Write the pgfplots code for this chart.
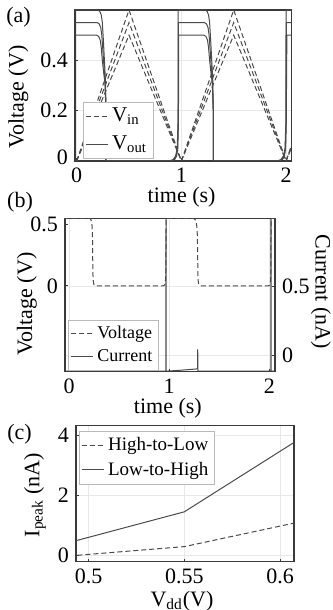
\documentclass[border=0pt]{standalone}
\usepackage{fontspec}
\setmainfont{Liberation Serif}
\usepackage{pgfplots}
\pgfplotsset{compat=1.18}
\definecolor{axc}{HTML}{3A3A3A}
\definecolor{lnc}{HTML}{4A4A4A}
\definecolor{grc}{HTML}{E8E8E8}
\pgfplotsset{
  myax/.style={
    scale only axis,
    axis line style={axc, line width=0.55pt},
    tick style={axc, line width=0.4pt},
    major tick length=1.5pt,
    tick align=inside,
    grid=major,
    major grid style={grc, line width=0.4pt},
    /pgf/number format/assume math mode=true,
    tick label style={font=\fontsize{11}{13}\selectfont},
    label style={font=\fontsize{11}{13}\selectfont},
    legend cell align=left,
    legend style={draw=gray!55, line width=0.4pt, fill=white, inner sep=1pt, outer sep=0pt},
    legend image code/.code={\draw[##1] (0pt,0pt) -- (11pt,0pt);},
    every axis plot/.append style={line width=0.5pt},
  },
  dsh/.style={lnc, dash pattern=on 2.5pt off 1.5pt, line width=0.5pt},
  sld/.style={lnc, solid, line width=0.5pt},
}
\begin{document}
\begin{tikzpicture}
\path[use as bounding box] (0pt,0pt) rectangle (166pt,-305pt);

% ---------------- (b) right axis (current) ----------------
\begin{axis}[myax,
  at={(32.5pt,-185.85pt)}, anchor=south west,
  width=105pt, height=76.7pt,
  xmin=-0.04, xmax=2.055, ymin=-0.122, ymax=1.0,
  xtick=\empty,
  ytick pos=right, yticklabel pos=right,
  xmajorgrids=false, ymajorgrids=true,
  ytick={0,0.5}, yticklabels={0,0.5},
  ylabel={Current (nA)},
  ylabel style={at={(axis description cs:1.219,0.52)}, anchor=center, rotate=180},
]
\addplot[lnc, line width=0.5pt] coordinates {
 (-0.05,-0.118) (0.05,-0.115) (0.2,-0.105) (0.236,-0.10) (0.236,-0.073) (0.238,-0.118)
 (0.966,-0.118) (0.968,1.2) (0.97,-0.118)
 (1.1,-0.112) (1.27,-0.102) (1.284,-0.098) (1.284,0.042) (1.286,-0.118)
 (2.013,-0.118) (2.015,1.2) (2.017,-0.118) (2.06,-0.118)};
\end{axis}

% ---------------- (b) left axis (voltage) ----------------
\begin{axis}[myax,
  at={(32.5pt,-185.85pt)}, anchor=south west,
  width=105pt, height=76.7pt,
  xmin=-0.04, xmax=2.055, ymin=-0.70, ymax=0.55,
  xtick={0,1,2}, ytick={0,0.5},
  xtick pos=bottom, ytick pos=left,
  xmajorgrids=true, ymajorgrids=false,
  xlabel={time (s)}, ylabel={Voltage (V)},
  xlabel style={at={(axis description cs:0.49,-0.235)}, anchor=center},
  ylabel style={at={(axis description cs:-0.182,0.441)}, anchor=center},
  legend style={at={(axis description cs:0.016,0.337)}, anchor=north west,
    font=\fontsize{9}{10.5}\selectfont, row sep=0pt},
]
\addplot[dsh] coordinates {
 (-0.05,0.55) (0.193,0.55) (0.208,0.548) (0.218,0.54) (0.226,0.52) (0.231,0.48) (0.234,0.4) (0.237,0.2) (0.24,0.05) (0.248,0.01) (0.262,0)
 (0.94,0) (0.952,0.005) (0.96,0.02) (0.964,0.06) (0.967,0.2) (0.969,0.55)
 (1.227,0.55) (1.245,0.548) (1.258,0.54) (1.268,0.52) (1.276,0.48) (1.281,0.4) (1.284,0.2) (1.287,0.05) (1.295,0.01) (1.31,0)
 (1.99,0) (2.002,0.005) (2.008,0.02) (2.012,0.06) (2.014,0.2) (2.016,0.55) (2.06,0.55)};
\addlegendentry{Voltage}
\addlegendimage{sld}
\addlegendentry{Current}
\end{axis}

% ---------------- (a) ----------------
\begin{axis}[myax,
  at={(37.5pt,-80.5pt)}, anchor=south west,
  width=108.35pt, height=75.5pt,
  xmin=-0.016, xmax=2.054, ymin=0, ymax=0.6,
  xtick={0,1,2}, ytick={0,0.2,0.4},
  yticklabels={\raisebox{4pt}{0},0.2,0.4},
  xtick pos=bottom, ytick pos=left,
  xlabel={time (s)}, ylabel={Voltage (V)},
  xlabel style={at={(axis description cs:0.492,-0.24)}, anchor=center},
  ylabel style={at={(axis description cs:-0.261,0.424)}, anchor=center},
  legend style={at={(axis description cs:0.037,0.391)}, anchor=north west,
    font=\fontsize{10.5}{12}\selectfont, row sep=1.5pt},
]
\addplot[dsh, forget plot] coordinates {(0,0) (0.5,0.6) (1,0) (1.5,0.6) (2,0) (2.06,0.072)};
\addplot[dsh, forget plot] coordinates {(0,0) (0.5,0.55) (1,0) (1.5,0.55) (2,0) (2.06,0.066)};
\addplot[dsh, forget plot] coordinates {(0,0) (0.5,0.5) (1,0) (1.5,0.5) (2,0) (2.06,0.06)};
\addplot[sld, forget plot] coordinates {
 (-0.02,0.6) (0.20,0.6) (0.22,0.595) (0.235,0.58) (0.245,0.55) (0.255,0.48) (0.265,0.40) (0.275,0.32) (0.28,0.2) (0.28,0)
 (0.88,0) (0.92,0.005) (0.945,0.02) (0.96,0.05) (0.968,0.15) (0.97,0.6)
 (1.225,0.6) (1.245,0.595) (1.26,0.58) (1.27,0.55) (1.28,0.48) (1.29,0.40) (1.30,0.32) (1.305,0.2) (1.305,0)
 (1.91,0) (1.95,0.005) (1.975,0.02) (1.99,0.05) (1.998,0.15) (2.0,0.6) (2.06,0.6)};
\addplot[sld, forget plot] coordinates {
 (-0.02,0.55) (0.195,0.55) (0.215,0.545) (0.23,0.53) (0.24,0.50) (0.25,0.44) (0.26,0.38) (0.272,0.32) (0.28,0.2) (0.28,0)
 (0.89,0) (0.93,0.005) (0.95,0.02) (0.963,0.05) (0.97,0.15) (0.972,0.55)
 (1.22,0.55) (1.24,0.545) (1.255,0.53) (1.265,0.50) (1.275,0.44) (1.285,0.38) (1.297,0.32) (1.305,0.2) (1.305,0)
 (1.92,0) (1.96,0.005) (1.98,0.02) (1.993,0.05) (2.0,0.15) (2.004,0.55) (2.06,0.55)};
\addplot[sld, forget plot] coordinates {
 (-0.02,0.5) (0.19,0.5) (0.21,0.495) (0.225,0.48) (0.235,0.45) (0.245,0.40) (0.258,0.35) (0.27,0.31) (0.28,0.2) (0.28,0)
 (0.90,0) (0.935,0.005) (0.955,0.02) (0.966,0.05) (0.972,0.15) (0.975,0.5)
 (1.215,0.5) (1.235,0.495) (1.25,0.48) (1.26,0.45) (1.27,0.40) (1.283,0.35) (1.295,0.31) (1.305,0.2) (1.305,0)
 (1.93,0) (1.965,0.005) (1.985,0.02) (1.996,0.05) (2.002,0.15) (2.008,0.5) (2.06,0.5)};
\addlegendimage{dsh}
\addlegendentry{V\textsubscript{in}}
\addlegendimage{sld}
\addlegendentry{V\textsubscript{out}}
\end{axis}

% ---------------- (c) ----------------
\begin{axis}[myax,
  at={(38pt,-280.85pt)}, anchor=south west,
  width=109pt, height=68pt,
  xmin=0.4934, xmax=0.6073, ymin=-0.223, ymax=4.31,
  xtick={0.5,0.55,0.6}, xticklabels={0.5,0.55,0.6},
  ytick={0,2,4},
  xtick pos=bottom, ytick pos=left,
  xlabel={V\textsubscript{dd}(V)}, ylabel={I\textsubscript{peak} (nA)},
  xlabel style={at={(axis description cs:0.486,-0.289)}, anchor=center},
  ylabel style={at={(axis description cs:-0.188,0.49)}, anchor=center},
  legend style={at={(axis description cs:0.014,0.956)}, anchor=north west,
    font=\fontsize{9.5}{11}\selectfont, row sep=0pt},
]
\addplot[dsh] coordinates {(0.49,-0.03) (0.55,0.28) (0.61,1.10)};
\addlegendentry{High-to-Low}
\addplot[sld] coordinates {(0.49,0.42) (0.55,1.44) (0.61,3.86)};
\addlegendentry{Low-to-High}
\end{axis}

\node[font=\fontsize{11}{13}\selectfont] at (9.3pt,-8.7pt) {(a)};
\node[font=\fontsize{11}{13}\selectfont] at (10pt,-101.3pt) {(b)};
\node[font=\fontsize{11}{13}\selectfont] at (9.75pt,-217pt) {(c)};
\end{tikzpicture}
\end{document}
